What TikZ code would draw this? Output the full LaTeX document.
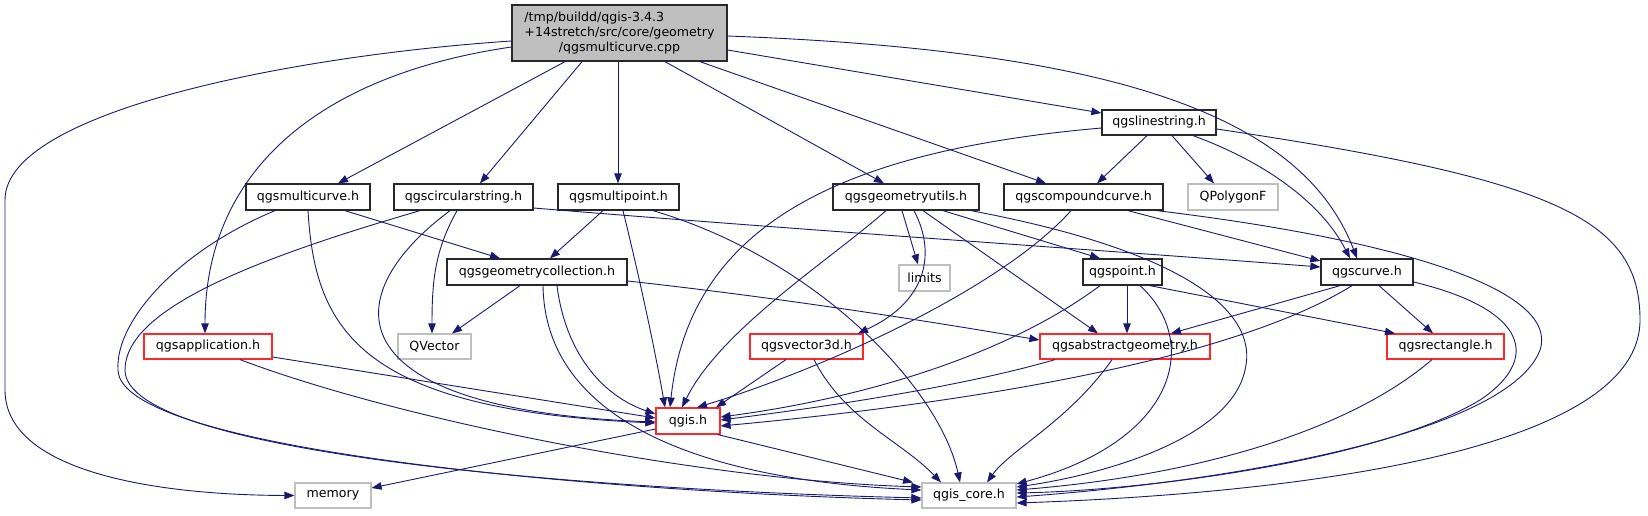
\documentclass[tikz,border=0pt]{standalone}
\usepackage{fontspec}
\setmainfont{DejaVu Sans}
\usetikzlibrary{arrows.meta}
\definecolor{edgeblue}{RGB}{25,25,112}
\definecolor{greyc}{RGB}{191,191,191}
\definecolor{redc}{RGB}{255,40,40}
\definecolor{darkb}{RGB}{40,40,40}
\newlength{\lnw}
\begin{document}
\settowidth{\lnw}{\fontsize{12.6}{14}\selectfont +14stretch/src/core/geometry}%
\begin{tikzpicture}[x=1pt,y=-1pt,
  box/.style={draw=darkb, line width=1.3pt, minimum height=25pt, inner sep=0pt,
    font=\fontsize{12.6}{14}\selectfont, text=black},
  redbox/.style={box, draw=redc, line width=1.2pt},
  greybox/.style={box, draw=greyc, line width=1.2pt},
  dep/.style={draw=edgeblue, line width=0.9pt, -{Triangle[length=10pt,width=7.5pt]}}]
\useasboundingbox (0,0) rectangle (1648,515);
% nodes
\node[box, fill=greyc, minimum width=215pt, minimum height=56pt, align=center,
  font=\fontsize{12.6}{15}\selectfont] (main) at (619.5,33)
  {\makebox[\lnw][l]{/tmp/buildd/qgis-3.4.3}\\+14stretch/src/core/geometry\\/qgsmulticurve.cpp};
\node[box, minimum width=114pt] (lstring) at (1159,122.5) {qgslinestring.h};
\node[box, minimum width=124pt, minimum height=26pt] (mcurve) at (308,197) {qgsmulticurve.h};
\node[box, minimum width=139pt, minimum height=26pt] (cstring) at (463.5,197) {qgscircularstring.h};
\node[box, minimum width=121pt, minimum height=26pt] (mpoint) at (618.5,197) {qgsmultipoint.h};
\node[box, minimum width=146pt, minimum height=26pt] (gutils) at (906,197) {qgsgeometryutils.h};
\node[box, minimum width=159pt, minimum height=26pt] (ccurve) at (1083.5,197) {qgscompoundcurve.h};
\node[greybox, minimum width=90pt, minimum height=26pt] (qpoly) at (1233,197) {QPolygonF};
\node[box, minimum width=180pt, minimum height=26pt] (gcoll) at (537,272) {qgsgeometrycollection.h};
\node[greybox, minimum width=51pt, minimum height=26pt] (limits) at (924.5,278) {limits};
\node[box, minimum width=79pt, minimum height=26pt] (point) at (1122.5,272) {qgspoint.h};
\node[box, minimum width=92pt, minimum height=26pt] (curve) at (1367,272) {qgscurve.h};
\node[redbox, minimum width=128pt] (app) at (208,346.5) {qgsapplication.h};
\node[greybox, minimum width=73pt] (qvec) at (434.5,346.5) {QVector};
\node[redbox, minimum width=113pt] (vec3) at (806.5,346.5) {qgsvector3d.h};
\node[redbox, minimum width=170pt] (ageom) at (1125,346.5) {qgsabstractgeometry.h};
\node[redbox, minimum width=117pt] (rect) at (1445.5,346.5) {qgsrectangle.h};
\node[redbox, minimum width=64pt, minimum height=26pt] (qgis) at (688,421) {qgis.h};
\node[greybox, minimum width=76pt] (memory) at (333,495.5) {memory};
\node[greybox, minimum width=94pt] (core) at (969,495.5) {qgis\_core.h};
% main
\draw[dep] (main.west |- 0,41) .. controls (300,55) and (5,110) .. (5,200) -- (5,390) .. controls (5,470) and (150,495) .. (memory.west);
\draw[dep] (main.west |- 0,47) .. controls (320,75) and (205,170) .. (205,0 |- app.north);
\draw[dep] (565,0 |- main.south) -- (338,0 |- mcurve.north);
\draw[dep] (582,0 |- main.south) -- (480,0 |- cstring.north);
\draw[dep] (618,0 |- main.south) -- (618,0 |- mpoint.north);
\draw[dep] (665,0 |- main.south) -- (884,0 |- gutils.north);
\draw[dep] (700,0 |- main.south) -- (1046,0 |- ccurve.north);
\draw[dep] (main.east |- 0,50) -- (lstring.west |- 0,113);
\draw[dep] (main.east |- 0,36) .. controls (1100,50) and (1300,110) .. (1357,0 |- curve.north);
% linestring
\draw[dep] (lstring.west |- 0,128) .. controls (850,150) and (690,220) .. (670,0 |- qgis.north);
\draw[dep] (1147,0 |- lstring.south) -- (1097,0 |- ccurve.north);
\draw[dep] (1172,0 |- lstring.south) -- (1214,0 |- qpoly.north);
\draw[dep] (1193,0 |- lstring.south) .. controls (1260,160) and (1320,200) .. (1350,0 |- curve.north);
\draw[dep] (lstring.east |- 0,129) .. controls (1560,180) and (1640,220) .. (1640,320) .. controls (1640,460) and (1250,495) .. (core.east |- 0,503);
% multicurve
\draw[dep] (275,0 |- mcurve.south) .. controls (180,250) and (115,320) .. (118,370) .. controls (120,450) and (600,492) .. (core.west |- 0,500);
\draw[dep] (308,0 |- mcurve.south) .. controls (315,330) and (360,410) .. (qgis.west |- 0,423);
\draw[dep] (345,0 |- mcurve.south) -- (500,0 |- gcoll.north);
% circularstring
\draw[dep] (420,0 |- cstring.south) .. controls (250,260) and (125,310) .. (125,370) .. controls (125,455) and (600,490) .. (core.west |- 0,498);
\draw[dep] (450,0 |- cstring.south) .. controls (330,300) and (340,410) .. (qgis.west |- 0,422);
\draw[dep] (457,0 |- cstring.south) .. controls (435,250) and (432,280) .. (432,0 |- qvec.north);
\draw[dep] (cstring.east |- 0,208) .. controls (800,230) and (1100,250) .. (curve.west |- 0,267);
% multipoint
\draw[dep] (603,0 |- mpoint.south) -- (550,0 |- gcoll.north);
\draw[dep] (623,0 |- mpoint.south) .. controls (640,280) and (655,350) .. (665,0 |- qgis.north);
\draw[dep] (653,0 |- mpoint.south) .. controls (820,260) and (940,390) .. (960,0 |- core.north);
% geometryutils
\draw[dep] (886,0 |- gutils.south) .. controls (830,260) and (720,330) .. (682,0 |- qgis.north);
\draw[dep] (902,0 |- gutils.south) -- (918,0 |- limits.north);
\draw[dep] (914,0 |- gutils.south) .. controls (935,250) and (930,300) .. (858,0 |- vec3.north);
\draw[dep] (923,0 |- gutils.south) -- (1098,0 |- ageom.north);
\draw[dep] (943,0 |- gutils.south) -- (1100,0 |- point.north);
\draw[dep] (971,0 |- gutils.south) .. controls (1180,250) and (1260,310) .. (1245,370) .. controls (1230,440) and (1100,475) .. (core.east |- 0,487);
% compoundcurve
\draw[dep] (1071,0 |- ccurve.south) .. controls (1000,290) and (820,370) .. (697,0 |- qgis.north);
\draw[dep] (1128,0 |- ccurve.south) -- (curve.west |- 0,261);
\draw[dep] (1157,0 |- ccurve.south) .. controls (1400,240) and (1560,290) .. (1540,350) .. controls (1510,430) and (1250,480) .. (core.east |- 0,497);
% geometrycollection
\draw[dep] (520,0 |- gcoll.south) -- (452,0 |- qvec.north);
\draw[dep] (gcoll.east |- 0,281) .. controls (800,300) and (950,325) .. (ageom.west |- 0,340);
\draw[dep] (557,0 |- gcoll.south) .. controls (565,350) and (600,395) .. (qgis.west |- 0,414);
\draw[dep] (543,0 |- gcoll.south) .. controls (545,420) and (700,480) .. (core.west |- 0,490);
% qgspoint
\draw[dep] (1100,0 |- point.south) .. controls (1000,360) and (850,400) .. (qgis.east |- 0,417);
\draw[dep] (1127,0 |- point.south) -- (1127,0 |- ageom.north);
\draw[dep] (1150,0 |- point.south) -- (1395,0 |- rect.north);
\draw[dep] (1140,0 |- point.south) .. controls (1200,340) and (1180,440) .. (core.east |- 0,484);
% qgscurve
\draw[dep] (1340,0 |- curve.south) -- (1171,0 |- ageom.north);
\draw[dep] (1379,0 |- curve.south) -- (1433,0 |- rect.north);
\draw[dep] (1352,0 |- curve.south) .. controls (1240,355) and (1000,400) .. (qgis.east |- 0,426);
\draw[dep] (curve.east |- 0,282) .. controls (1530,310) and (1540,360) .. (1480,400) .. controls (1380,460) and (1150,490) .. (core.east |- 0,493);
% application
\draw[dep] (app.east |- 0,357) -- (qgis.west |- 0,418);
\draw[dep] (240,0 |- app.south) .. controls (400,420) and (700,480) .. (core.west |- 0,487);
% vector3d
\draw[dep] (786,0 |- vec3.south) -- (716,0 |- qgis.north);
\draw[dep] (814,0 |- vec3.south) .. controls (845,420) and (900,440) .. (941,0 |- core.north);
% abstractgeometry
\draw[dep] (1055,0 |- ageom.south) .. controls (950,390) and (800,410) .. (qgis.east |- 0,420);
\draw[dep] (1112,0 |- ageom.south) .. controls (1070,420) and (1010,450) .. (987,0 |- core.north);
% rectangle
\draw[dep] (1432,0 |- rect.south) .. controls (1350,430) and (1200,475) .. (core.east |- 0,490);
% qgis
\draw[dep] (qgis.west |- 0,429) -- (memory.east |- 0,488);
\draw[dep] (718,0 |- qgis.south) -- (913,0 |- core.north);
\end{tikzpicture}
\end{document}
